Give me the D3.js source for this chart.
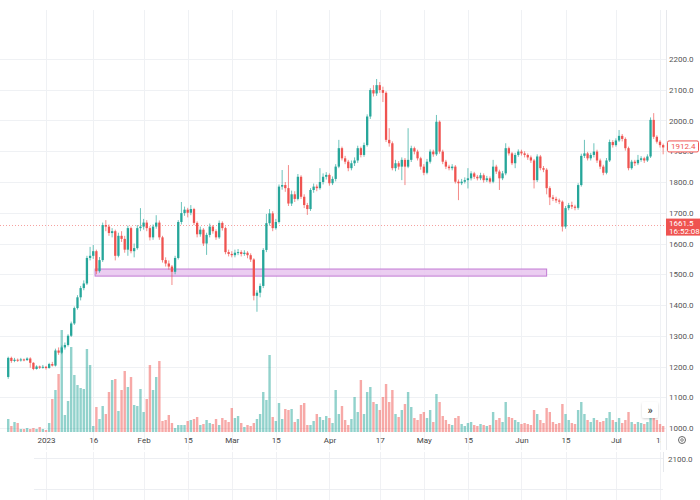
<!DOCTYPE html>
<html><head><meta charset="utf-8">
<script src="https://cdn.jsdelivr.net/npm/d3@7"></script>
<style>
body{margin:0;background:#fff;}
svg{display:block;font-family:Roboto,"Liberation Sans",Arial,sans-serif;}
</style>
</head><body>
<svg id="c" width="700" height="500"></svg>
<script>
// ---------- DATA ----------
const startDate = "2022-12-20";   // first daily candle
const firstOpen = 1166;
const closes = [1228,1218,1222,1220,1223,1221,1226,1212,1192,1200,1196,1199,
1195,1208,1203,1252,1245,1262,1270,1300,1340,1390,1425,1455,1470,1553,1560,1575,1510,1546,1660,1655,1634,1640,1560,1625,1615,1580,1650,1575,1585,1650,1655,
1668,1650,1620,1655,1668,1620,1546,1535,1525,1508,1553,1670,1699,1710,1700,1712,1667,1630,1645,1600,1628,1655,1640,1620,1667,1650,1572,1566,1562,
1570,1572,1566,1570,1562,1548,1430,1440,1462,1579,1666,1698,1650,1670,1785,1790,1780,1730,1760,1745,1817,1752,1725,1712,1774,1785,1780,1800,1817,1823,
1796,1810,1850,1910,1877,1866,1845,1861,1870,1910,1888,1920,2013,2099,2088,2115,2099,2090,1937,1926,1845,1861,1850,1872,1850,1872,1910,1899,1877,1850,
1830,1866,1899,1890,1996,1899,1866,1850,1845,1850,1801,1796,1801,1806,1812,1828,1817,1812,1822,1806,1812,1801,1850,1834,1812,1828,1910,1893,1861,1888,
1899,1893,1888,1880,1870,1806,1883,1845,1840,1780,1750,1745,1740,1736,1655,1715,1725,1720,1716,1790,1885,1893,1877,1888,1899,1870,1850,1830,1870,1930,
1920,1935,1950,1940,1910,1845,1866,1861,1872,1877,1870,1883,2002,1947,1931,1920,1912.4];
const highs = [1232,1232,1228,1226,1228,1226,1230,1230,1214,1204,1203,1205,
1202,1212,1215,1258,1262,1268,1278,1305,1346,1395,1432,1462,1480,1560,1589,1595,1580,1556,1668,1676,1662,1650,1645,1635,1640,1625,1658,1655,1600,1660,1715,
1680,1676,1656,1662,1692,1675,1625,1555,1545,1530,1560,1676,1735,1720,1716,1725,1716,1672,1655,1650,1635,1665,1660,1646,1675,1672,1655,1580,1575,
1580,1582,1578,1578,1575,1568,1552,1448,1470,1585,1696,1712,1705,1680,1792,1839,1800,1855,1772,1770,1826,1822,1760,1732,1780,1795,1792,1845,1828,1832,
1828,1818,1858,1937,1915,1885,1872,1870,1880,1918,1915,1928,2020,2105,2115,2135,2125,2110,2095,1975,1932,1872,1868,1880,1878,1975,1918,1915,1905,1882,
1858,1875,1906,1905,2018,2000,1905,1872,1856,1858,1855,1808,1810,1815,1845,1835,1833,1823,1830,1828,1820,1818,1872,1856,1840,1836,1926,1915,1898,1895,
1906,1905,1900,1893,1886,1875,1890,1888,1852,1845,1786,1758,1752,1746,1740,1722,1732,1736,1726,1796,1892,1937,1898,1895,1926,1905,1876,1856,1878,1938,
1936,1942,1969,1956,1945,1915,1872,1872,1888,1884,1882,1890,2010,2024,1952,1936,1925];
const lows = [1160,1212,1214,1215,1216,1217,1218,1196,1188,1190,1192,1193,
1190,1193,1200,1200,1238,1240,1255,1265,1296,1335,1385,1415,1448,1465,1545,1550,1500,1505,1540,1640,1625,1620,1545,1555,1605,1570,1560,1568,1555,1580,1640,
1645,1640,1610,1612,1648,1612,1538,1525,1515,1465,1500,1548,1662,1690,1685,1692,1660,1620,1622,1592,1563,1620,1632,1612,1615,1642,1565,1558,1555,
1555,1562,1558,1560,1552,1540,1415,1378,1425,1455,1572,1658,1640,1645,1665,1775,1768,1722,1722,1735,1740,1745,1715,1693,1706,1765,1770,1775,1792,1808,
1788,1790,1802,1845,1870,1858,1835,1838,1852,1862,1880,1882,1915,2005,2078,2080,2090,2060,1930,1915,1838,1835,1840,1806,1790,1845,1865,1890,1870,1840,
1822,1825,1860,1882,1885,1892,1858,1842,1838,1838,1795,1741,1790,1795,1779,1805,1810,1805,1806,1798,1800,1795,1796,1826,1774,1806,1822,1886,1855,1845,
1882,1886,1880,1872,1862,1779,1800,1838,1832,1760,1725,1738,1732,1728,1639,1648,1708,1712,1708,1710,1785,1878,1870,1870,1880,1862,1842,1822,1825,1865,
1912,1915,1930,1932,1902,1838,1840,1852,1855,1866,1862,1865,1878,1940,1925,1912,1890];
const volumes = [13,6,10,9,3,3,4,3,4,3,5,3,
2,9,33,42,58,102,17,31,85,57,47,44,43,83,67,6,25,13,26,18,40,52,53,21,42,61,45,55,27,26,43,
20,33,67,42,55,71,11,12,17,9,4,7,7,7,11,12,13,15,7,8,12,9,8,13,7,14,12,10,24,
14,16,9,5,7,6,9,13,18,40,32,77,15,11,29,13,23,22,23,10,13,27,29,7,7,11,18,15,12,16,
14,9,42,18,26,12,7,13,35,20,52,18,40,45,30,28,22,35,48,30,42,18,15,22,28,40,25,14,12,18,
20,14,22,10,38,30,16,12,8,7,14,16,8,6,9,10,7,6,8,7,6,7,20,12,14,10,30,15,14,12,
10,8,9,8,7,22,18,12,9,24,20,10,8,9,28,18,12,9,8,22,30,18,12,10,14,12,10,11,14,20,
12,10,14,9,12,20,10,8,10,9,8,10,25,27,12,8,6];
const tickDates = ["2023-01-01","2023-01-16","2023-02-01","2023-02-15","2023-03-01","2023-03-15","2023-04-01","2023-04-17","2023-05-01","2023-05-15","2023-06-01","2023-06-15","2023-07-01","2023-07-15"];
const tickLabels = ["2023","16","Feb","15","Mar","15","Apr","17","May","15","Jun","15","Jul","15"];
const priceTicks = [1000,1100,1200,1300,1400,1500,1600,1700,1800,1900,2000,2100,2200];
const zoneDates = ["2023-01-16T14:00","2023-06-09T00:00"];
const zonePrices = [1494,1517];
const lastPrice = 1912.4;
const markPrice = 1661.5;
const markTime = "16:52:08";
const lowerPaneTick = "2100.0";

// ---------- CHART ----------
const UP = "#26a69a", DOWN = "#ef5350";
const svg = d3.select("#c");
const parseD = d3.utcParse("%Y-%m-%d");
const parseT = d3.utcParse("%Y-%m-%dT%H:%M");
const start = parseD(startDate);
const dates = closes.map((_, i) => d3.utcDay.offset(start, i));
const opens = closes.map((c, i) => i === 0 ? firstOpen : closes[i - 1]);
const candles = closes.map((c, i) => ({date: dates[i], o: opens[i], h: highs[i], l: lows[i], c: c, v: volumes[i]}));

const PLOT_R = 666, PLOT_B = 450;
const x = d3.scaleUtc().domain([parseD("2023-01-01"), parseD("2023-07-15")]).range([46, 660]);
const y = d3.scaleLinear().domain([1000, 2200]).range([428, 59]);
const yv = d3.scaleLinear().domain([0, 100]).range([432, 332]);

svg.append("rect").attr("width", 700).attr("height", 500).attr("fill", "#fff");
const defs = svg.append("defs");
defs.append("clipPath").attr("id", "plot").append("rect").attr("x", 0).attr("y", 8).attr("width", PLOT_R).attr("height", PLOT_B - 8);
defs.append("clipPath").attr("id", "xlab").append("rect").attr("x", 0).attr("y", 430).attr("width", 661).attr("height", 20);
const f = defs.append("filter").attr("id", "sh").attr("x", "-30%").attr("y", "-30%").attr("width", "160%").attr("height", "160%");
f.append("feDropShadow").attr("dx", 0).attr("dy", 1).attr("stdDeviation", 1.2).attr("flood-color", "#000").attr("flood-opacity", 0.18);

const tDates = tickDates.map(parseD);
const grid = svg.append("g").attr("stroke", "#eff1f4").attr("stroke-width", 1);
grid.selectAll(".v").data(tDates).join("line")
  .attr("x1", d => Math.round(x(d)) + 0.5).attr("x2", d => Math.round(x(d)) + 0.5)
  .attr("y1", 10).attr("y2", PLOT_B).attr("clip-path", "url(#plot)");
grid.selectAll(".h").data(priceTicks).join("line")
  .attr("x1", 0).attr("x2", PLOT_R).attr("y1", d => Math.round(y(d)) + 0.5).attr("y2", d => Math.round(y(d)) + 0.5);

// lower pane
const low = svg.append("g");
low.selectAll("line.v").data(tDates).join("line")
  .attr("x1", d => Math.round(x(d)) + 0.5).attr("x2", d => Math.round(x(d)) + 0.5)
  .attr("y1", 452).attr("y2", 500).attr("stroke", "#f0f1f4");
[458.5, 489.5].forEach(yy => low.append("line").attr("x1", 34).attr("x2", 663).attr("y1", yy).attr("y2", yy).attr("stroke", "#eceef2"));
low.append("line").attr("x1", 663.5).attr("x2", 663.5).attr("y1", 452).attr("y2", 472).attr("stroke", "#e6e8ec");
low.append("text").attr("x", 668).attr("y", 462).attr("font-size", 8).attr("fill", "#555").text(lowerPaneTick);

// plot group
const plot = svg.append("g").attr("clip-path", "url(#plot)");
const bw = 2.3;
plot.append("g").selectAll("rect").data(candles).join("rect")
  .attr("x", d => x(d.date) - 1.2).attr("width", 2.4)
  .attr("y", d => yv(d.v)).attr("height", d => yv(0) - yv(d.v))
  .attr("fill", d => d.c >= d.o ? UP : DOWN).attr("fill-opacity", 0.5);

// zone
const z0 = parseT(zoneDates[0]), z1 = parseT(zoneDates[1]);
plot.append("rect").attr("x", x(z0)).attr("width", x(z1) - x(z0))
  .attr("y", y(zonePrices[1])).attr("height", y(zonePrices[0]) - y(zonePrices[1]))
  .attr("fill", "#e7c4ee").attr("fill-opacity", 0.85).attr("stroke", "#c27ad3").attr("stroke-width", 1);

// mark price dotted line
plot.append("line").attr("x1", 0).attr("x2", PLOT_R).attr("y1", Math.round(y(markPrice)) + 0.5).attr("y2", Math.round(y(markPrice)) + 0.5)
  .attr("stroke", DOWN).attr("stroke-opacity", 0.55).attr("stroke-dasharray", "1,2");

const cg = plot.append("g");
cg.selectAll("line").data(candles).join("line")
  .attr("x1", d => x(d.date)).attr("x2", d => x(d.date))
  .attr("y1", d => y(d.h)).attr("y2", d => y(d.l))
  .attr("stroke", d => d.c >= d.o ? UP : DOWN).attr("stroke-opacity", 0.75).attr("stroke-width", 0.9);
cg.selectAll("rect").data(candles).join("rect")
  .attr("x", d => x(d.date) - bw / 2).attr("width", bw)
  .attr("y", d => y(Math.max(d.o, d.c)))
  .attr("height", d => Math.max(1, Math.abs(y(d.o) - y(d.c))))
  .attr("fill", d => d.c >= d.o ? UP : DOWN);

// right axis
svg.append("line").attr("x1", PLOT_R + 0.5).attr("x2", PLOT_R + 0.5).attr("y1", 10).attr("y2", PLOT_B).attr("stroke", "#e6e8ec");
const ya = svg.append("g").attr("transform", `translate(${PLOT_R},0)`)
  .call(d3.axisRight(y).tickValues(priceTicks).tickFormat(d3.format(".1f")).tickSize(0).tickPadding(3));
ya.select(".domain").remove();
ya.selectAll("text").attr("font-size", 8).attr("fill", "#555").attr("font-family", "Roboto,'Liberation Sans',sans-serif");

// bottom axis (outer group holds the clip so it uses page coordinates)
const xaWrap = svg.append("g").attr("clip-path", "url(#xlab)");
const xa = xaWrap.append("g").attr("transform", "translate(0,434)")
  .call(d3.axisBottom(x).tickValues(tDates).tickFormat((d, i) => tickLabels[i]).tickSize(0).tickPadding(3));
xa.select(".domain").remove();
xa.selectAll("text").attr("font-size", 8).attr("fill", "#444").attr("font-family", "Roboto,'Liberation Sans',sans-serif");

// last price label (drawn over the 1900.0 tick, as in the reference)
const ly = y(lastPrice);
svg.append("rect").attr("x", 667.5).attr("y", ly - 6.5).attr("width", 31).attr("height", 11).attr("rx", 1.5)
  .attr("fill", "#fff").attr("stroke", DOWN).attr("stroke-width", 1);
svg.append("text").attr("x", 671).attr("y", ly + 2).attr("font-size", 8).attr("fill", DOWN).text(d3.format(".1f")(lastPrice));

// mark price label
const my = y(markPrice);
svg.append("rect").attr("x", 666).attr("y", my - 6).attr("width", 34).attr("height", 17).attr("fill", DOWN);
svg.append("text").attr("x", 669).attr("y", my + 1.5).attr("font-size", 8).attr("fill", "#fff").text(d3.format(".1f")(markPrice));
svg.append("text").attr("x", 669).attr("y", my + 9.5).attr("font-size", 8).attr("fill", "#fff").text(markTime);

// scroll button
const bg = svg.append("g").attr("transform", "translate(650,410)");
bg.append("rect").attr("x", -8).attr("y", -8).attr("width", 16).attr("height", 16).attr("rx", 2).attr("fill", "#fff").attr("filter", "url(#sh)");
bg.append("text").attr("text-anchor", "middle").attr("y", 3.5).attr("font-size", 11).attr("fill", "#333").text("»");

// settings icon
const sg = svg.append("g").attr("transform", "translate(682,440)");
sg.append("circle").attr("r", 3.5).attr("fill", "none").attr("stroke", "#666").attr("stroke-width", 1);
sg.append("circle").attr("r", 1.3).attr("fill", "none").attr("stroke", "#666").attr("stroke-width", 0.8);
</script>
</body></html>
